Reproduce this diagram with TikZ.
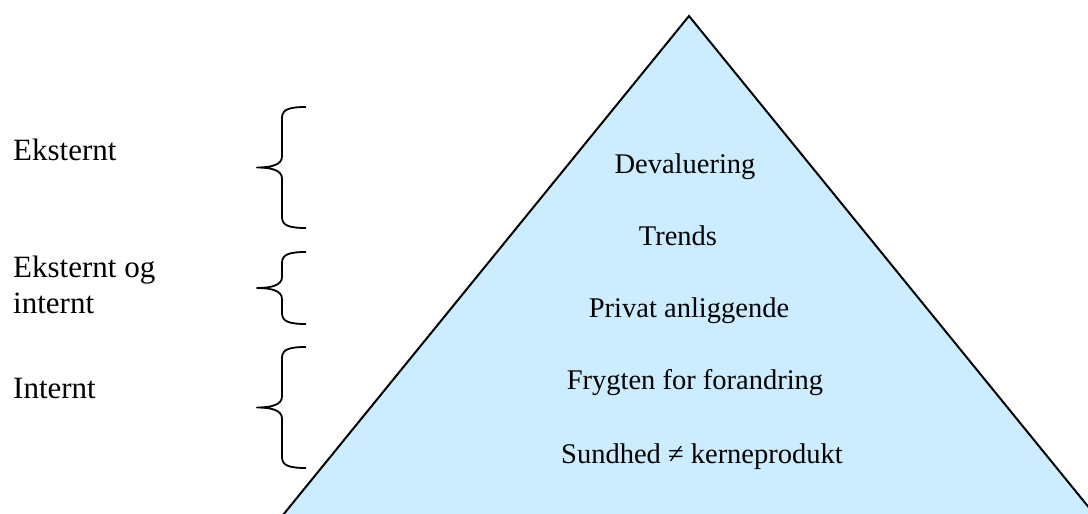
\documentclass[tikz,border=0pt]{standalone}
\usepackage{fontspec}
\setmainfont{Liberation Serif}
\definecolor{pyramidfill}{RGB}{204,236,255}
\tikzset{
  side label/.style={anchor=base west, inner sep=0pt, font=\fontsize{31}{36}\selectfont, align=left},
  level label/.style={anchor=base, inner sep=0pt, font=\fontsize{28.5}{33}\selectfont},
  bracket/.style={line width=1.8pt, line cap=butt, line join=round},
  outline/.style={line width=2pt, line join=miter}
}
% curly brace opening to the right: #1 = spine x, #2 = top y, #3 = bottom y
\newcommand{\leftbrace}[3]{%
  \pgfmathsetmacro{\bmid}{(#2+#3)/2}%
  \draw[bracket] (#1+24,#2) .. controls (#1+8,#2) and (#1,#2+2) .. (#1,#2+11)
    -- (#1,\bmid-11) .. controls (#1,\bmid-3) and (#1-10,\bmid) .. (#1-25,\bmid)
    .. controls (#1-10,\bmid) and (#1,\bmid+3) .. (#1,\bmid+11)
    -- (#1,#3-11) .. controls (#1,#3-2) and (#1+8,#3) .. (#1+24,#3);}
\begin{document}
\begin{tikzpicture}[x=1pt,y=-1pt]
  \useasboundingbox (0,0) rectangle (1088,514);
  \clip (0,0) rectangle (1088,514);

  % pyramid
  \fill[pyramidfill] (283,514) -- (689,16) -- (1095,514) -- cycle;
  \draw[outline] (283,515) -- (689,16) -- (1095,515);

  % levels of the pyramid
  \node[level label] (l1) at (685,173) {Devaluering};
  \node[level label] (l2) at (678,245) {Trends};
  \node[level label] (l3) at (689,317) {Privat anliggende};
  \node[level label] (l4) at (695,389) {Frygten for forandring};
  \node[level label] (l5) at (702,463) {Sundhed ≠ kerneprodukt};

  % groupings
  \node[side label] (g1) at (13,160) {Eksternt};
  \node[side label] (g2) at (13,313) {Eksternt og\\internt};
  \node[side label] (g3) at (13,398) {Internt};

  \leftbrace{282}{107}{228}
  \leftbrace{282}{252}{324}
  \leftbrace{282}{347}{468}
\end{tikzpicture}
\end{document}
